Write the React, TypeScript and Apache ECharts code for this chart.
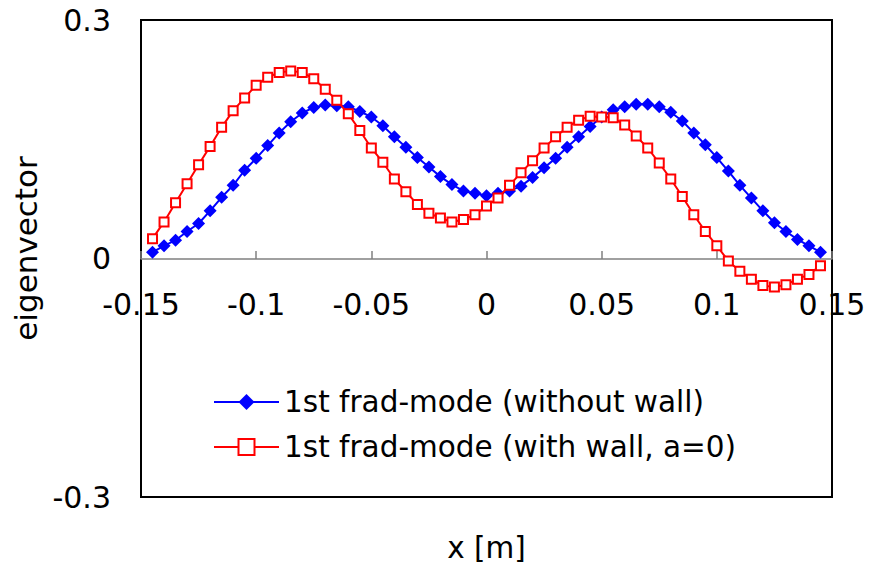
import React, { useEffect, useRef } from "react";
import * as echarts from "echarts";

const xValues = [
  -0.145, -0.14, -0.135, -0.13, -0.125, -0.12, -0.115, -0.11, -0.105, -0.1,
  -0.095, -0.09, -0.085, -0.08, -0.075, -0.07, -0.065, -0.06, -0.055, -0.05,
  -0.045, -0.04, -0.035, -0.03, -0.025, -0.02, -0.015, -0.01, -0.005, 0,
  0.005, 0.01, 0.015, 0.02, 0.025, 0.03, 0.035, 0.04, 0.045, 0.05,
  0.055, 0.06, 0.065, 0.07, 0.075, 0.08, 0.085, 0.09, 0.095, 0.1,
  0.105, 0.11, 0.115, 0.12, 0.125, 0.13, 0.135, 0.14, 0.145,
];

const withoutWall = [
  0.008, 0.016, 0.023, 0.034, 0.044, 0.06, 0.077, 0.092, 0.111, 0.126,
  0.142, 0.158, 0.172, 0.183, 0.19, 0.193, 0.192, 0.191, 0.185, 0.178,
  0.167, 0.153, 0.14, 0.127, 0.115, 0.103, 0.093, 0.085, 0.082, 0.079,
  0.082, 0.085, 0.091, 0.102, 0.114, 0.126, 0.14, 0.153, 0.166, 0.178,
  0.187, 0.191, 0.194, 0.194, 0.191, 0.184, 0.173, 0.158, 0.143, 0.127,
  0.11, 0.092, 0.076, 0.06, 0.045, 0.034, 0.024, 0.016, 0.008,
];

const withWall = [
  0.025, 0.046, 0.07, 0.094, 0.118, 0.141, 0.165, 0.186, 0.202, 0.218,
  0.228, 0.234, 0.236, 0.234, 0.226, 0.213, 0.199, 0.182, 0.161, 0.139,
  0.121, 0.1, 0.084, 0.068, 0.057, 0.051, 0.046, 0.049, 0.055, 0.066,
  0.076, 0.092, 0.108, 0.123, 0.139, 0.153, 0.165, 0.174, 0.179, 0.178,
  0.177, 0.168, 0.154, 0.139, 0.12, 0.1, 0.078, 0.055, 0.034, 0.016,
  -0.003, -0.016, -0.026, -0.034, -0.036, -0.033, -0.026, -0.02, -0.009,
];

const seriesNames = [
  "1st frad-mode (without wall)",
  "1st frad-mode (with wall, a=0)",
];

const FONT = "DejaVu Sans";

export default function App() {
  const ref = useRef<HTMLDivElement>(null);
  useEffect(() => {
    if (!ref.current) return;
    const chart = echarts.init(ref.current, null, { renderer: "svg" });
    const fmt = (v: number) => String(+Number(v).toFixed(3));
    chart.setOption({
      animation: false,
      backgroundColor: "#ffffff",
      grid: {
        left: 141,
        right: 38,
        top: 20,
        bottom: 77,
        show: true,
        borderColor: "#000000",
        borderWidth: 2,
        backgroundColor: "transparent",
        containLabel: false,
        outerBoundsMode: "none",
      },
      legend: {
        orient: "vertical",
        left: 213,
        top: 385,
        padding: 0,
        itemWidth: 65,
        itemHeight: 20,
        itemGap: 11,
        textStyle: { fontFamily: FONT, fontSize: 29.5, color: "#000", lineHeight: 34 },
        data: seriesNames,
      },
      xAxis: {
        type: "value",
        min: -0.15,
        max: 0.15,
        interval: 0.05,
        offset: -238,
        name: "x [m]",
        nameLocation: "middle",
        nameGap: 274,
        nameTextStyle: { fontFamily: FONT, fontSize: 29.5, color: "#000" },
        axisLine: { onZero: false, lineStyle: { color: "#808080", width: 1.5 } },
        axisTick: { show: true, inside: true, length: 8, lineStyle: { color: "#808080", width: 1.5 } },
        axisLabel: {
          fontFamily: FONT,
          fontSize: 30,
          color: "#000",
          margin: 30,
          lineHeight: 30,
          formatter: fmt,
          showMinLabel: true,
          showMaxLabel: true,
        },
        splitLine: { show: false },
      },
      yAxis: {
        type: "value",
        min: -0.3,
        max: 0.3,
        interval: 0.3,
        name: "eigenvector",
        nameLocation: "middle",
        nameRotate: 90,
        nameGap: 96,
        nameTextStyle: { fontFamily: FONT, fontSize: 31, color: "#000", padding: [0, 0, 0, 20] },
        axisLine: { show: false },
        axisTick: { show: false },
        axisLabel: {
          fontFamily: FONT,
          fontSize: 30,
          color: "#000",
          margin: 30,
          formatter: fmt,
        },
        splitLine: { show: false },
      },
      series: [
        {
          name: seriesNames[0],
          type: "line",
          data: xValues.map((x, i) => [x, withoutWall[i]]),
          symbol: "diamond",
          symbolSize: 13,
          showAllSymbol: true,
          lineStyle: { color: "#0000ff", width: 2 },
          itemStyle: { color: "#0000ff", borderWidth: 0 },
          z: 2,
        },
        {
          name: seriesNames[1],
          type: "line",
          data: xValues.map((x, i) => [x, withWall[i]]),
          symbol: "rect",
          symbolSize: 9,
          showAllSymbol: true,
          lineStyle: { color: "#ff0000", width: 2 },
          itemStyle: { color: "#ffffff", borderColor: "#ff0000", borderWidth: 2 },
          z: 3,
        },
      ],
    });
    return () => chart.dispose();
  }, []);
  return (
    <div
      ref={ref}
      style={{ position: "fixed", left: 0, top: 0, width: 870, height: 574, background: "#fff" }}
    />
  );
}
